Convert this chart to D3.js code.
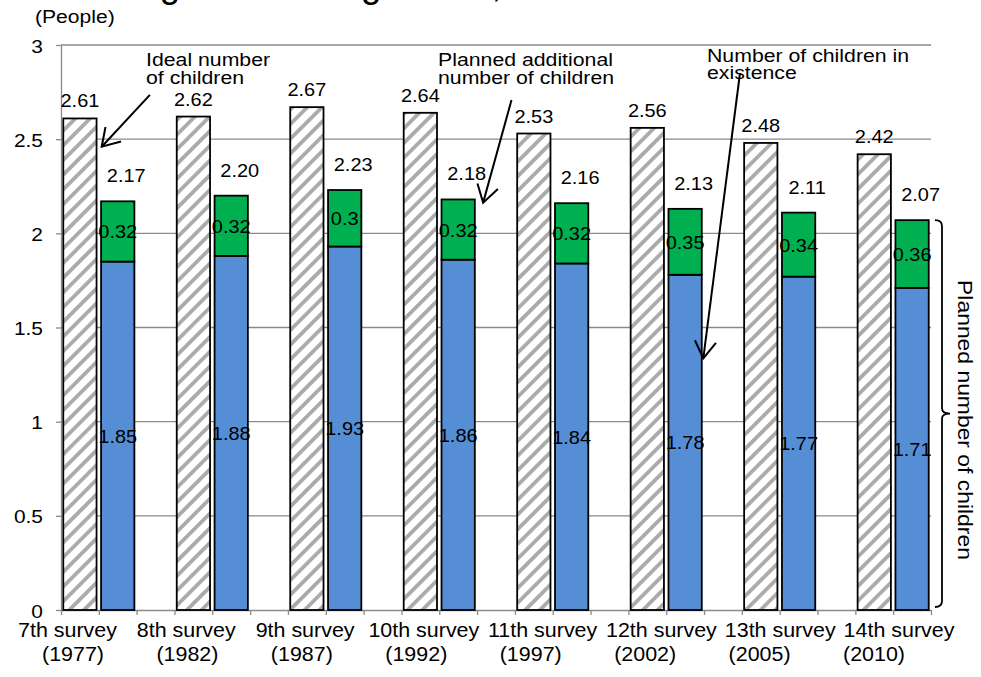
<!DOCTYPE html>
<html>
<head>
<meta charset="utf-8">
<script src="https://cdn.jsdelivr.net/npm/d3@7"></script>
<style>
  html, body { margin: 0; background: #fff; }
  svg { display: block; font-family: "Liberation Sans", Arial, sans-serif; }
</style>
</head>
<body>
<svg id="chart" width="981" height="677"></svg>
<script>
// Survey rounds and their years
const surveys = ["7th survey", "8th survey", "9th survey", "10th survey",
                 "11th survey", "12th survey", "13th survey", "14th survey"];
const surveyYears = ["(1977)", "(1982)", "(1987)", "(1992)",
                     "(1997)", "(2002)", "(2005)", "(2010)"];

// Average ideal number of children
const idealChildren = [2.61, 2.62, 2.67, 2.64, 2.53, 2.56, 2.48, 2.42];
// Number of children already born
const existingChildren = [1.85, 1.88, 1.93, 1.86, 1.84, 1.78, 1.77, 1.71];
// Additional children still planned
const additionalChildren = [0.32, 0.32, 0.3, 0.32, 0.32, 0.35, 0.34, 0.36];

const yTickValues = [0, 0.5, 1, 1.5, 2, 2.5, 3];

const svg = d3.select("#chart");
const plot = { left: 61, right: 931, top: 45, bottom: 610 };

const nSlots = surveys.length * 3 - 1;   // ideal, planned, gap per survey
const x = d3.scaleBand()
  .domain(d3.range(nSlots))
  .range([plot.left, plot.right])
  .paddingInner(0.12)
  .paddingOuter(0.06);
const xEdge = d3.scaleLinear().domain([0, nSlots]).range([plot.left, plot.right]);
const y = d3.scaleLinear().domain([0, 3]).range([plot.bottom, plot.top]);

const gridColor = "#8a8a8a";

// Text helper: slightly widened glyphs
function label(g, px, py, str, size, sx, anchor) {
  return g.append("text")
    .attr("transform", `translate(${px},${py}) scale(${sx},1)`)
    .attr("text-anchor", anchor || "middle")
    .attr("font-size", size)
    .attr("fill", "#000")
    .text(str);
}

// Hatch pattern for the ideal-number bars
const defs = svg.append("defs");
defs.append("pattern")
  .attr("id", "hatch")
  .attr("patternUnits", "userSpaceOnUse")
  .attr("width", 10.4).attr("height", 10.4)
  .attr("patternTransform", "rotate(45)")
  .call(p => {
    p.append("rect").attr("width", 10.4).attr("height", 10.4).attr("fill", "#fff");
    p.append("rect").attr("x", 0).attr("width", 3.8).attr("height", 10.4).attr("fill", "#ababab");
  });

// Title (runs off the top edge)
svg.append("text")
  .attr("x", 72).attr("y", -3)
  .attr("font-size", 36.7)
  .attr("fill", "#000")
  .text("Changes in Average Ideal, Planned Number of Children");

// Gridlines
svg.append("g").selectAll("line")
  .data(yTickValues.filter(d => d > 0))
  .join("line")
  .attr("x1", plot.left).attr("x2", plot.right)
  .attr("y1", d => y(d)).attr("y2", d => y(d))
  .attr("stroke", gridColor).attr("stroke-width", 1.3);

// Y axis
const yAxis = svg.append("g")
  .attr("transform", `translate(${plot.left},0)`)
  .call(d3.axisLeft(y).tickValues(yTickValues).tickSize(5).tickSizeOuter(0).tickFormat(d3.format("")));
yAxis.select(".domain").attr("stroke", gridColor).attr("stroke-width", 1.3);
yAxis.selectAll(".tick line").attr("stroke", gridColor).attr("stroke-width", 1.3);
yAxis.selectAll(".tick text").remove();
yAxis.selectAll(".tick").each(function(d) {
  label(d3.select(this), -18, 7, d3.format("")(d), 19, 1.1, "end");
});

// X axis with a tick at every slot boundary
const xAxis = svg.append("g")
  .attr("transform", `translate(0,${plot.bottom})`)
  .call(d3.axisBottom(xEdge).tickValues(d3.range(nSlots + 1)).tickSize(5).tickSizeOuter(0).tickFormat(""));
xAxis.select(".domain").attr("stroke", gridColor).attr("stroke-width", 1.3);
xAxis.selectAll(".tick line").attr("stroke", gridColor).attr("stroke-width", 1.3);

// Category labels
const labelLine1 = d3.scaleLinear().domain([0, surveys.length - 1]).range([67.5, 899]);
const labelLine2 = d3.scaleLinear().domain([0, surveys.length - 1]).range([73, 874]);
const catG = svg.append("g");
surveys.forEach((s, i) => {
  label(catG, labelLine1(i), 637, s, 19.5, 1.1);
  label(catG, labelLine2(i), 661, surveyYears[i], 19.5, 1.1);
});

const barStroke = "#000", barStrokeW = 1.8;
const rows = surveys.map((s, i) => ({
  i,
  ideal: idealChildren[i],
  existing: existingChildren[i],
  additional: additionalChildren[i],
  total: existingChildren[i] + additionalChildren[i]
}));

// Ideal-number bars
svg.append("g").selectAll("rect")
  .data(rows)
  .join("rect")
  .attr("x", d => x(d.i * 3))
  .attr("width", x.bandwidth())
  .attr("y", d => y(d.ideal))
  .attr("height", d => y(0) - y(d.ideal))
  .attr("fill", "url(#hatch)")
  .attr("stroke", barStroke).attr("stroke-width", barStrokeW);

// Planned bars: existing (blue) + additional (green)
const stack = d3.stack().keys(["existing", "additional"])(rows);
const stackColors = { existing: "#558ed5", additional: "#00b050" };
svg.append("g").selectAll("g")
  .data(stack)
  .join("g")
  .attr("fill", d => stackColors[d.key])
  .selectAll("rect")
  .data(d => d)
  .join("rect")
  .attr("x", d => x(d.data.i * 3 + 1))
  .attr("width", x.bandwidth())
  .attr("y", d => y(d[1]))
  .attr("height", d => y(d[0]) - y(d[1]))
  .attr("stroke", barStroke).attr("stroke-width", barStrokeW);

// Value labels
const valG = svg.append("g");
rows.forEach(d => {
  const cxIdeal = x(d.i * 3) + x.bandwidth() / 2;
  const cxPlan = x(d.i * 3 + 1) + x.bandwidth() / 2;
  label(valG, cxIdeal, y(d.ideal) - 11, d3.format(".2f")(d.ideal), 19, 1.05);
  label(valG, cxPlan + 8.5, y(d.total) - 19, d3.format(".2f")(d.total), 19, 1.05);
  label(valG, cxPlan, (y(d.existing) + y(d.total)) / 2 + 7, String(d.additional), 19, 1.05);
  label(valG, cxPlan, (y(0) + y(d.existing)) / 2 + 7, String(d.existing), 19, 1.05);
});

// Callout texts
const noteG = svg.append("g");
label(noteG, 146, 66, "Ideal number", 18.5, 1.15, "start");
label(noteG, 146, 84, "of children", 18.5, 1.15, "start");
label(noteG, 438, 66, "Planned additional", 18.5, 1.15, "start");
label(noteG, 438, 84, "number of children", 18.5, 1.15, "start");
label(noteG, 707, 61.5, "Number of children in", 18.5, 1.15, "start");
label(noteG, 707, 79, "existence", 18.5, 1.15, "start");

// Callout arrows (slot position, value) from tail to tip
const callouts = [
  { from: [2.35, 2.735], to: [1.076, 2.46] },
  { from: [11.91, 2.708], to: [11.16, 2.163] },
  { from: [17.95, 2.85], to: [16.98, 1.336] }
];
const arrowG = svg.append("g").attr("stroke", "#000").attr("stroke-width", 2).attr("fill", "none");
callouts.forEach(c => {
  const x0 = xEdge(c.from[0]), y0 = y(c.from[1]);
  const x1 = xEdge(c.to[0]), y1 = y(c.to[1]);
  const ang = Math.atan2(y0 - y1, x0 - x1);
  const len = 20, spread = 32 * Math.PI / 180;
  arrowG.append("line").attr("x1", x0).attr("y1", y0).attr("x2", x1).attr("y2", y1);
  arrowG.append("path").attr("d",
    `M${x1 + len * Math.cos(ang - spread)},${y1 + len * Math.sin(ang - spread)}` +
    `L${x1},${y1}` +
    `L${x1 + len * Math.cos(ang + spread)},${y1 + len * Math.sin(ang + spread)}`);
});

// Brace spanning the last planned bar
const last = rows[rows.length - 1];
const bx = 942, bTop = y(last.total), bBot = y(0) - 3, bMid = (bTop + bBot) / 2;
svg.append("path")
  .attr("d", `M${bx - 7},${bTop} Q${bx},${bTop} ${bx},${bTop + 6} L${bx},${bMid - 5} Q${bx},${bMid} ${bx + 8},${bMid}` +
             ` Q${bx},${bMid} ${bx},${bMid + 5} L${bx},${bBot - 6} Q${bx},${bBot} ${bx - 7},${bBot}`)
  .attr("fill", "none").attr("stroke", "#000").attr("stroke-width", 1.8);

svg.append("text")
  .attr("transform", `translate(958,420) rotate(90) scale(1.09,1)`)
  .attr("text-anchor", "middle")
  .attr("font-size", 21)
  .attr("fill", "#000")
  .text("Planned number of children");

// Unit label
label(svg, 35, 23, "(People)", 18.5, 1.14, "start");
</script>
</body>
</html>
